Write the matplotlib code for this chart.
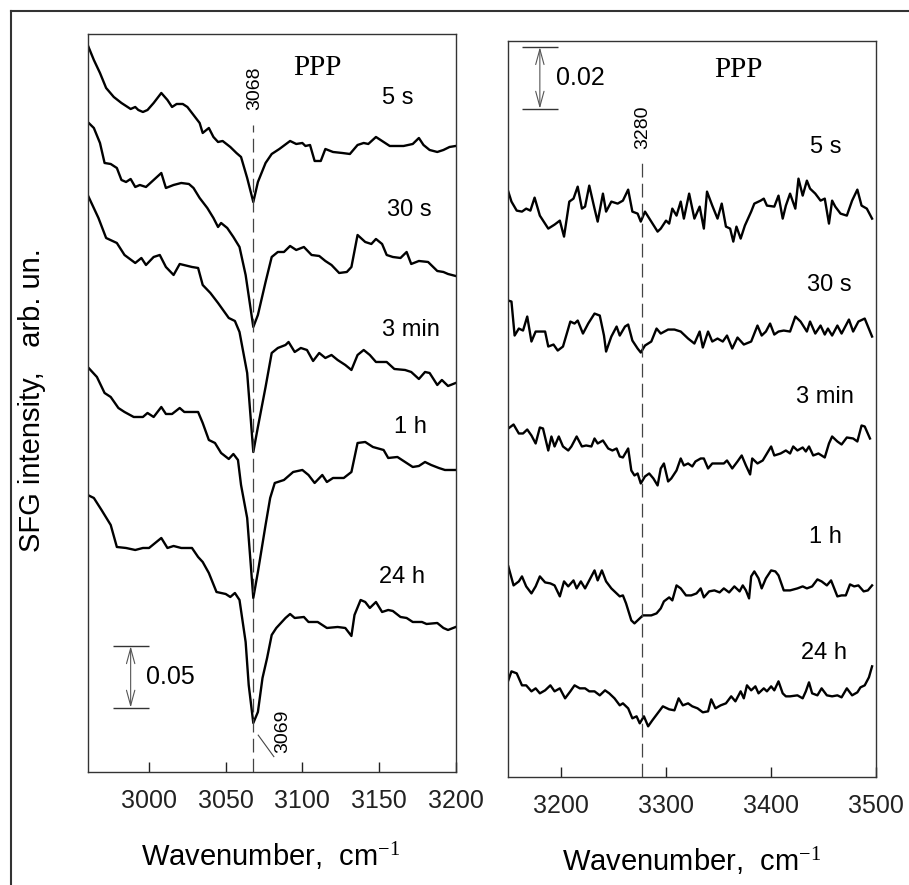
import numpy as np
import matplotlib.pyplot as plt
from matplotlib.lines import Line2D

plt.rcParams["font.family"] = ["Liberation Sans", "DejaVu Sans"]
plt.rcParams["mathtext.fontset"] = "custom"
plt.rcParams["mathtext.rm"] = "Liberation Serif"
plt.rcParams["mathtext.it"] = "Liberation Serif:italic"

# Values. Signals are heights in picture units,
# converted to SFG intensity with the scale bars (0.05 and 0.02).
LEFT_UNIT = 0.05 / 61.4
RIGHT_UNIT = 0.02 / 61.6

times = ["5 s", "30 s", "3 min", "1 h", "24 h"]

# 1. C-H region (left panel)
# ==========================
wn_5s = [2960, 2964, 2968, 2972, 2977, 2982, 2988, 2991, 2993, 2996, 2999, 3003, 3008, 3012, 3015,
         3018, 3022, 3025, 3029, 3033, 3035, 3039, 3042, 3045, 3048, 3053, 3057, 3060, 3064, 3068,
         3071, 3076, 3080, 3085, 3092, 3096, 3100, 3102, 3105, 3108, 3112, 3115, 3120, 3126, 3131,
         3136, 3140, 3143, 3148, 3153, 3157, 3166, 3172, 3176, 3179, 3183, 3188, 3192, 3196, 3200]
sfg_5s = [727, 712, 699, 684, 675, 669, 663, 665, 662, 660, 662, 669, 679, 672, 665,
          668, 668, 665, 657, 649, 639, 644, 635, 630, 631, 625, 619, 615, 594, 570,
          590, 609, 618, 623, 631, 628, 629, 626, 627, 611, 611, 623, 620, 619, 618,
          627, 629, 628, 635, 630, 626, 626, 628, 634, 627, 622, 620, 622, 625, 626]

wn_30s = [2960, 2964, 2968, 2971, 2975, 2979, 2982, 2985, 2988, 2991, 2994, 2998, 3003, 3008, 3011,
          3016, 3021, 3026, 3029, 3033, 3038, 3042, 3045, 3047, 3051, 3055, 3059, 3063, 3068, 3071,
          3076, 3080, 3084, 3088, 3092, 3096, 3101, 3106, 3111, 3115, 3119, 3124, 3129, 3132, 3136,
          3141, 3145, 3148, 3152, 3155, 3159, 3164, 3168, 3171, 3176, 3182, 3188, 3192, 3195, 3200]
sfg_30s = [650, 644, 629, 609, 608, 604, 592, 590, 593, 585, 587, 585, 592, 599, 584,
           587, 589, 588, 584, 574, 564, 554, 545, 549, 544, 535, 525, 497, 445, 457,
           490, 515, 520, 520, 526, 522, 525, 517, 516, 511, 507, 499, 500, 505, 537,
           530, 528, 533, 528, 517, 515, 514, 520, 508, 511, 510, 501, 500, 498, 496]

wn_3min = [2960, 2967, 2972, 2979, 2984, 2991, 2995, 2998, 3003, 3007, 3011, 3016, 3020, 3028, 3032,
           3035, 3040, 3045, 3052, 3056, 3059, 3064, 3068, 3071, 3076, 3080, 3084, 3089, 3091, 3095,
           3099, 3103, 3107, 3111, 3115, 3119, 3123, 3128, 3132, 3136, 3140, 3144, 3148, 3155, 3160,
           3167, 3171, 3176, 3180, 3183, 3188, 3191, 3195, 3200]
sfg_3min = [577, 554, 534, 529, 517, 509, 514, 507, 515, 517, 505, 497, 508, 505, 504,
            487, 479, 469, 454, 451, 440, 399, 320, 345, 385, 419, 424, 427, 430, 420,
            424, 422, 411, 419, 414, 417, 412, 407, 402, 417, 422, 417, 410, 410, 403,
            402, 400, 393, 400, 399, 387, 392, 386, 389]

wn_1h = [2960, 2966, 2971, 2975, 2980, 2984, 2990, 2996, 2999, 3003, 3008, 3011, 3015, 3020, 3023,
         3032, 3035, 3039, 3043, 3047, 3052, 3055, 3058, 3060, 3064, 3068, 3071, 3076, 3079, 3082,
         3088, 3094, 3100, 3104, 3108, 3113, 3116, 3120, 3127, 3132, 3136, 3141, 3146, 3153, 3156,
         3162, 3167, 3172, 3176, 3180, 3184, 3189, 3193, 3200]
sfg_1h = [405, 395, 379, 375, 364, 360, 355, 355, 359, 355, 365, 358, 358, 364, 360,
          360, 349, 332, 329, 319, 313, 318, 312, 287, 254, 174, 200, 247, 274, 289,
          292, 300, 302, 297, 289, 297, 290, 294, 294, 300, 329, 330, 325, 322, 314,
          315, 310, 305, 306, 310, 307, 304, 302, 302]

wn_24h = [2960, 2964, 2969, 2975, 2979, 2985, 2991, 2996, 3000, 3004, 3008, 3012, 3016, 3021, 3028,
          3032, 3035, 3039, 3044, 3050, 3053, 3056, 3059, 3063, 3065, 3068, 3071, 3074, 3077, 3080,
          3083, 3089, 3092, 3095, 3101, 3104, 3110, 3116, 3123, 3128, 3132, 3134, 3138, 3141, 3144,
          3148, 3152, 3156, 3159, 3164, 3168, 3172, 3178, 3181, 3188, 3192, 3195, 3200]
sfg_24h = [277, 274, 262, 247, 225, 224, 222, 224, 224, 229, 234, 224, 226, 224, 224,
           215, 210, 199, 180, 178, 175, 179, 172, 130, 87, 49, 60, 94, 114, 137,
           144, 154, 158, 154, 155, 150, 150, 144, 145, 144, 136, 157, 172, 170, 164,
           170, 160, 162, 161, 155, 154, 150, 150, 148, 149, 144, 142, 145]

# 2. O-H region (right panel)
# ===========================
wn_r_5s = [3150, 3153, 3158, 3163, 3167, 3171, 3175, 3180, 3188, 3194, 3199, 3203, 3208, 3212, 3216,
           3220, 3223, 3227, 3232, 3235, 3240, 3243, 3248, 3254, 3259, 3264, 3268, 3273, 3276, 3280,
           3286, 3292, 3295, 3300, 3303, 3306, 3310, 3314, 3317, 3322, 3327, 3332, 3336, 3339, 3344,
           3349, 3353, 3357, 3361, 3364, 3367, 3371, 3375, 3381, 3384, 3390, 3393, 3396, 3403, 3407,
           3411, 3414, 3418, 3423, 3426, 3430, 3434, 3437, 3442, 3447, 3451, 3455, 3458, 3461, 3466,
           3472, 3477, 3482, 3486, 3491, 3496]
sfg_r_5s = [586, 576, 567, 566, 569, 567, 580, 562, 549, 553, 557, 541, 576, 579, 591,
            569, 571, 592, 569, 556, 584, 566, 576, 574, 577, 588, 566, 564, 556, 566,
            556, 546, 549, 557, 554, 569, 562, 576, 559, 584, 559, 571, 549, 586, 572,
            559, 574, 551, 549, 536, 551, 539, 552, 566, 574, 577, 579, 572, 571, 582,
            559, 572, 584, 569, 599, 582, 597, 589, 584, 577, 579, 554, 577, 571, 564,
            562, 577, 588, 572, 569, 559]

wn_r_30s = [3150, 3153, 3156, 3160, 3164, 3168, 3172, 3176, 3182, 3185, 3188, 3193, 3197, 3202, 3209,
            3213, 3216, 3221, 3226, 3232, 3237, 3241, 3243, 3248, 3253, 3256, 3261, 3264, 3268, 3273,
            3276, 3280, 3286, 3291, 3295, 3302, 3308, 3314, 3321, 3327, 3332, 3335, 3340, 3344, 3349,
            3354, 3358, 3363, 3368, 3374, 3381, 3387, 3391, 3395, 3399, 3403, 3407, 3412, 3418, 3423,
            3428, 3431, 3434, 3437, 3442, 3447, 3451, 3454, 3458, 3463, 3467, 3474, 3478, 3483, 3489,
            3496]
sfg_r_30s = [477, 476, 442, 449, 447, 461, 436, 446, 446, 446, 431, 433, 427, 431, 456,
             454, 457, 444, 454, 464, 462, 442, 426, 441, 451, 442, 451, 453, 437, 429,
             425, 432, 436, 449, 444, 448, 448, 446, 439, 434, 446, 430, 446, 436, 439,
             436, 442, 429, 440, 433, 436, 452, 442, 446, 454, 443, 446, 447, 446, 461,
             456, 451, 446, 456, 444, 452, 443, 449, 442, 452, 444, 458, 446, 456, 459,
             441]

wn_r_3min = [3150, 3155, 3160, 3164, 3168, 3172, 3176, 3180, 3183, 3188, 3191, 3194, 3198, 3202, 3207,
             3210, 3215, 3220, 3224, 3229, 3232, 3235, 3240, 3245, 3249, 3253, 3256, 3259, 3264, 3267,
             3270, 3273, 3276, 3280, 3284, 3288, 3292, 3295, 3298, 3302, 3305, 3310, 3314, 3317, 3321,
             3325, 3328, 3333, 3336, 3340, 3344, 3349, 3355, 3358, 3363, 3368, 3372, 3376, 3380, 3382,
             3387, 3392, 3396, 3400, 3403, 3409, 3414, 3418, 3421, 3425, 3430, 3433, 3436, 3440, 3445,
             3451, 3455, 3458, 3463, 3467, 3472, 3478, 3482, 3486, 3489, 3494]
sfg_r_3min = [349, 353, 344, 344, 348, 342, 334, 350, 349, 327, 341, 331, 341, 331, 327,
              331, 341, 331, 332, 331, 339, 334, 337, 329, 327, 329, 321, 320, 329, 307,
              302, 304, 294, 301, 304, 299, 292, 309, 314, 296, 299, 307, 319, 312, 314,
              311, 316, 319, 319, 309, 314, 314, 314, 317, 309, 316, 322, 312, 303, 319,
              314, 317, 324, 331, 322, 324, 327, 324, 331, 327, 330, 326, 331, 322, 324,
              320, 334, 341, 336, 333, 340, 339, 336, 352, 351, 339]

wn_r_1h = [3150, 3155, 3160, 3163, 3167, 3172, 3176, 3180, 3185, 3190, 3194, 3199, 3203, 3207, 3212,
           3215, 3219, 3223, 3227, 3232, 3235, 3239, 3243, 3248, 3251, 3256, 3259, 3262, 3267, 3270,
           3273, 3278, 3286, 3291, 3295, 3298, 3303, 3306, 3310, 3314, 3319, 3324, 3329, 3333, 3336,
           3341, 3346, 3351, 3355, 3360, 3365, 3370, 3373, 3376, 3379, 3381, 3384, 3388, 3391, 3395,
           3400, 3404, 3407, 3412, 3418, 3425, 3430, 3434, 3439, 3444, 3448, 3453, 3457, 3463, 3467,
           3471, 3475, 3479, 3483, 3488, 3492, 3496]
sfg_r_1h = [211, 192, 196, 201, 191, 184, 191, 201, 195, 194, 192, 181, 196, 191, 197,
            189, 196, 189, 197, 207, 197, 207, 196, 189, 186, 181, 182, 174, 157, 154,
            157, 162, 162, 164, 169, 176, 180, 177, 192, 189, 182, 182, 184, 189, 180,
            186, 187, 185, 189, 185, 191, 186, 192, 187, 179, 201, 206, 199, 189, 199,
            207, 206, 202, 187, 187, 189, 191, 189, 191, 198, 196, 192, 197, 181, 182,
            182, 193, 191, 192, 186, 187, 192]

wn_r_24h = [3150, 3153, 3158, 3163, 3167, 3172, 3176, 3180, 3185, 3190, 3194, 3199, 3204, 3209, 3213,
            3218, 3223, 3227, 3232, 3237, 3242, 3246, 3251, 3256, 3259, 3264, 3268, 3272, 3275, 3279,
            3283, 3287, 3292, 3297, 3303, 3308, 3312, 3316, 3321, 3325, 3330, 3335, 3340, 3343, 3347,
            3352, 3357, 3362, 3366, 3371, 3374, 3377, 3381, 3385, 3388, 3393, 3396, 3400, 3403, 3407,
            3411, 3414, 3418, 3425, 3430, 3433, 3436, 3439, 3444, 3448, 3453, 3458, 3463, 3467, 3472,
            3477, 3482, 3485, 3489, 3493, 3496]
sfg_r_24h = [97, 106, 104, 92, 92, 86, 89, 84, 87, 92, 86, 89, 79, 86, 92,
             89, 89, 86, 86, 82, 87, 84, 79, 72, 74, 69, 59, 61, 54, 61,
             51, 57, 64, 71, 68, 67, 79, 72, 74, 71, 69, 65, 66, 78, 69,
             72, 74, 81, 76, 86, 79, 92, 87, 91, 84, 89, 86, 91, 87, 96,
             84, 81, 81, 82, 79, 86, 95, 84, 82, 89, 82, 81, 82, 80, 89,
             82, 85, 90, 92, 100, 111]

left_curves = [(wn_5s, sfg_5s), (wn_30s, sfg_30s), (wn_3min, sfg_3min),
               (wn_1h, sfg_1h), (wn_24h, sfg_24h)]
right_curves = [(wn_r_5s, sfg_r_5s), (wn_r_30s, sfg_r_30s), (wn_r_3min, sfg_r_3min),
                (wn_r_1h, sfg_r_1h), (wn_r_24h, sfg_r_24h)]

# 3. Figure
# =========
fig = plt.figure(figsize=(9.09, 8.85), dpi=100)
axL = fig.add_axes([0.0965, 0.1277, 0.4048, 0.8339])
axR = fig.add_axes([0.5592, 0.1217, 0.4048, 0.8323])

# outer frame (left and top edges visible)
fig.add_artist(Line2D([11 / 909, 11 / 909], [0, 1 - 11 / 885], color="#333333", lw=1.5))
fig.add_artist(Line2D([11 / 909, 1], [1 - 11 / 885, 1 - 11 / 885], color="#333333", lw=1.5))

for wn, sig in left_curves:
    axL.plot(wn, np.array(sig) * LEFT_UNIT, color="black", lw=1.7)
for wn, sig in right_curves:
    axR.plot(wn, np.array(sig) * RIGHT_UNIT, color="black", lw=1.7)

axL.set_xlim(2960, 3200)
axL.set_ylim(0, 738 * LEFT_UNIT)
axR.set_xlim(3150, 3500)
axR.set_ylim(0, 737 * RIGHT_UNIT)
axL.set_xticks([3000, 3050, 3100, 3150, 3200])
axR.set_xticks([3200, 3300, 3400, 3500])

for ax in (axL, axR):
    ax.set_yticks([])
    ax.tick_params(axis="x", direction="in", length=7, width=1, pad=12,
                   labelsize=18, colors="#222222")
    for s in ax.spines.values():
        s.set_color("#333333")
        s.set_linewidth(1.0)

# peak markers
axL.vlines(3068, 0, 0.527, colors="#444444", lw=0.9, linestyles=(0, (11, 5)))
axR.vlines(3277, 0, 0.1998, colors="#444444", lw=0.9, linestyles=(0, (11, 5)))
axL.text(3069, 0.557, "3068", rotation=90, fontsize=14, ha="center", va="center")
axL.text(3087, 0.033, "3069", rotation=90, fontsize=14, ha="center", va="center")
axL.plot([3071.2, 3081.4], [0.030, 0.0125], color="#444444", lw=0.8)
axR.text(3278, 0.2112, "3280", rotation=90, fontsize=14, ha="center", va="center")

# polarization
axL.text(3093.8, 0.5733, "PPP", family="Liberation Serif", fontsize=21, ha="left", va="center")
axR.text(3345.7, 0.2297, "PPP", family="Liberation Serif", fontsize=21, ha="left", va="center")

# time labels
left_pos = [(3162.5, 0.549), (3170, 0.4577), (3171, 0.360), (3170.6, 0.281), (3165, 0.1588)]
right_pos = [(3452, 0.2047), (3455, 0.1599), (3451.5, 0.1235), (3452, 0.0780), (3450, 0.0404)]
for t, (x, y) in zip(times, left_pos):
    axL.text(x, y, t, fontsize=17, ha="center", va="center")
for t, (x, y) in zip(times, right_pos):
    axR.text(x, y, t, fontsize=17, ha="center", va="center")


# scale bars
def scale_bar(ax, x, y0, height, half, label):
    ax.hlines([y0, y0 + height], x - half, x + half, colors="#333333", lw=1.0)
    ax.annotate("", xy=(x, y0 + height), xytext=(x, y0),
                arrowprops=dict(arrowstyle="<->,head_length=1.1,head_width=0.3",
                                color="#555555", lw=0.8, shrinkA=0, shrinkB=0))
    ax.text(x + half - 1.5, y0 + height / 2, label, fontsize=18, ha="left", va="center")


scale_bar(axL, 2988, 0.0524, 0.05, 11.8, "0.05")
scale_bar(axR, 3180, 0.2172, 0.02, 17.3, "0.02")

# axis labels
fig.text(0.298, 0.0215, "Wavenumber,  cm$^{-1}$", fontsize=21, ha="center", va="baseline")
fig.text(0.761, 0.0150, "Wavenumber,  cm$^{-1}$", fontsize=21, ha="center", va="baseline")
fig.text(0.035, 0.548, "SFG intensity,   arb. un.", fontsize=21, rotation=90,
         ha="center", va="center")

fig.savefig("out.png", dpi=100, facecolor="white")
